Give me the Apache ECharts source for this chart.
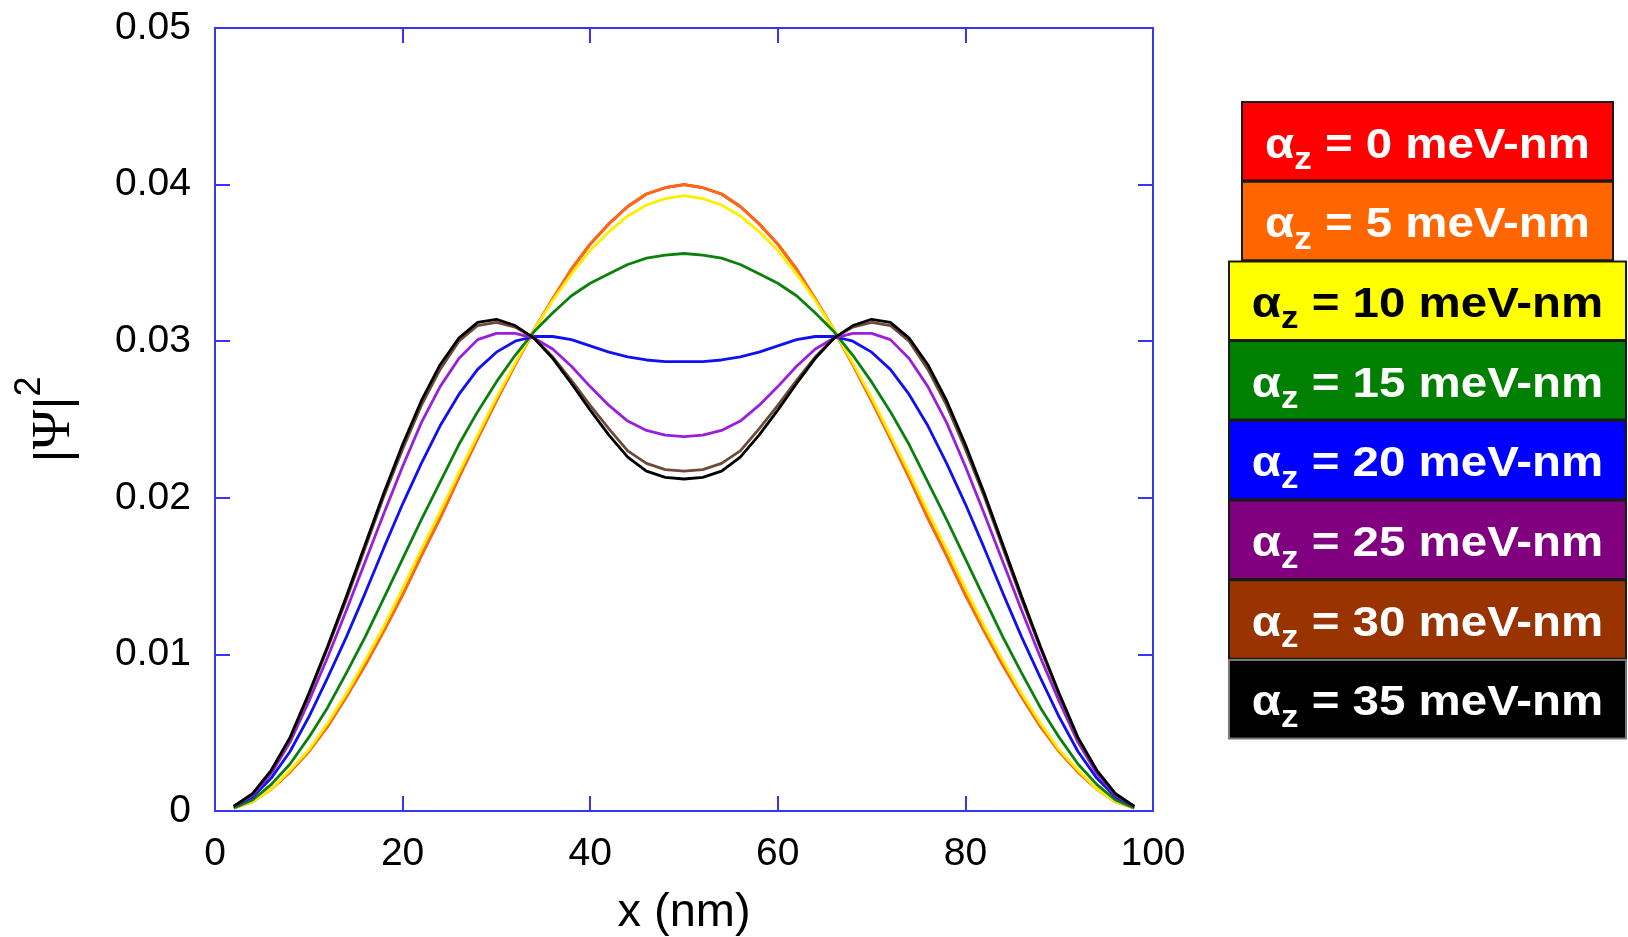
<!DOCTYPE html>
<html>
<head>
<meta charset="utf-8">
<script src="https://cdn.jsdelivr.net/npm/echarts@6/dist/echarts.min.js"></script>
<style>
  html, body { margin: 0; padding: 0; background: #ffffff; }
  #chart { width: 1628px; height: 937px; }
</style>
</head>
<body>
<div id="chart"></div>
<script>
// Grid positions along the wire (nm)
const xNm = [2, 4, 6, 8, 10, 12, 14, 16, 18, 20, 22, 24, 26, 28, 30, 32, 34, 36, 38, 40, 42, 44, 46, 48, 50,
             52, 54, 56, 58, 60, 62, 64, 66, 68, 70, 72, 74, 76, 78, 80, 82, 84, 86, 88, 90, 92, 94, 96, 98];

// Spin-orbit strengths (meV-nm), one curve each
const alphaValues = [0, 5, 10, 15, 20, 25, 30, 35];

// |Psi|^2 along x for each alpha_z
const density0 = [0.0002, 0.0006, 0.0014, 0.0025, 0.0038, 0.0054, 0.0073, 0.0093, 0.0115, 0.0138, 0.0163, 0.0187, 0.0213, 0.0238, 0.0262, 0.0285, 0.0307, 0.0327, 0.0346, 0.0362, 0.0375, 0.0386, 0.0394, 0.0398, 0.0400,
                  0.0398, 0.0394, 0.0386, 0.0375, 0.0362, 0.0346, 0.0327, 0.0307, 0.0285, 0.0262, 0.0238, 0.0213, 0.0187, 0.0163, 0.0138, 0.0115, 0.0093, 0.0073, 0.0054, 0.0038, 0.0025, 0.0014, 0.0006, 0.0002];
const density5 = [0.0002, 0.0006, 0.0014, 0.0025, 0.0038, 0.0054, 0.0073, 0.0093, 0.0115, 0.0138, 0.0163, 0.0187, 0.0213, 0.0238, 0.0262, 0.0285, 0.0307, 0.0327, 0.0346, 0.0362, 0.0375, 0.0386, 0.0394, 0.0398, 0.0400,
                  0.0398, 0.0394, 0.0386, 0.0375, 0.0362, 0.0346, 0.0327, 0.0307, 0.0285, 0.0262, 0.0238, 0.0213, 0.0187, 0.0163, 0.0138, 0.0115, 0.0093, 0.0073, 0.0054, 0.0038, 0.0025, 0.0014, 0.0006, 0.0002];
const density10 = [0.0002, 0.0006, 0.0014, 0.0026, 0.0039, 0.0056, 0.0075, 0.0096, 0.0118, 0.0142, 0.0167, 0.0191, 0.0216, 0.0240, 0.0264, 0.0286, 0.0307, 0.0326, 0.0343, 0.0358, 0.0370, 0.0380, 0.0387, 0.0391, 0.0393,
                   0.0391, 0.0387, 0.0380, 0.0370, 0.0358, 0.0343, 0.0326, 0.0307, 0.0286, 0.0264, 0.0240, 0.0216, 0.0191, 0.0167, 0.0142, 0.0118, 0.0096, 0.0075, 0.0056, 0.0039, 0.0026, 0.0014, 0.0006, 0.0002];
const density15 = [0.0002, 0.0007, 0.0017, 0.0030, 0.0047, 0.0066, 0.0088, 0.0111, 0.0136, 0.0161, 0.0186, 0.0210, 0.0234, 0.0255, 0.0274, 0.0291, 0.0306, 0.0318, 0.0329, 0.0337, 0.0343, 0.0349, 0.0353, 0.0355, 0.0356,
                   0.0355, 0.0353, 0.0349, 0.0343, 0.0337, 0.0329, 0.0318, 0.0306, 0.0291, 0.0274, 0.0255, 0.0234, 0.0210, 0.0186, 0.0161, 0.0136, 0.0111, 0.0088, 0.0066, 0.0047, 0.0030, 0.0017, 0.0007, 0.0002];
const density20 = [0.0003, 0.0009, 0.0021, 0.0038, 0.0060, 0.0085, 0.0111, 0.0139, 0.0168, 0.0196, 0.0222, 0.0246, 0.0266, 0.0282, 0.0293, 0.0300, 0.0303, 0.0303, 0.0301, 0.0297, 0.0293, 0.0290, 0.0288, 0.0287, 0.0287,
                   0.0287, 0.0288, 0.0290, 0.0293, 0.0297, 0.0301, 0.0303, 0.0303, 0.0300, 0.0293, 0.0282, 0.0266, 0.0246, 0.0222, 0.0196, 0.0168, 0.0139, 0.0111, 0.0085, 0.0060, 0.0038, 0.0021, 0.0009, 0.0003];
const density25 = [0.0003, 0.0010, 0.0024, 0.0044, 0.0070, 0.0098, 0.0128, 0.0159, 0.0190, 0.0220, 0.0248, 0.0271, 0.0289, 0.0301, 0.0305, 0.0305, 0.0302, 0.0295, 0.0284, 0.0271, 0.0259, 0.0249, 0.0243, 0.0240, 0.0239,
                   0.0240, 0.0243, 0.0249, 0.0259, 0.0271, 0.0284, 0.0295, 0.0302, 0.0305, 0.0305, 0.0301, 0.0289, 0.0271, 0.0248, 0.0220, 0.0190, 0.0159, 0.0128, 0.0098, 0.0070, 0.0044, 0.0024, 0.0010, 0.0003];
const density30 = [0.0003, 0.0011, 0.0026, 0.0046, 0.0074, 0.0104, 0.0135, 0.0168, 0.0201, 0.0231, 0.0259, 0.0282, 0.0300, 0.0310, 0.0312, 0.0309, 0.0302, 0.0290, 0.0275, 0.0259, 0.0244, 0.0230, 0.0222, 0.0218, 0.0217,
                   0.0218, 0.0222, 0.0230, 0.0244, 0.0259, 0.0275, 0.0290, 0.0302, 0.0309, 0.0312, 0.0310, 0.0300, 0.0282, 0.0259, 0.0231, 0.0201, 0.0168, 0.0135, 0.0104, 0.0074, 0.0046, 0.0026, 0.0011, 0.0003];
const density35 = [0.0003, 0.0011, 0.0026, 0.0047, 0.0075, 0.0105, 0.0137, 0.0170, 0.0203, 0.0234, 0.0262, 0.0285, 0.0302, 0.0312, 0.0314, 0.0310, 0.0302, 0.0289, 0.0273, 0.0256, 0.0240, 0.0226, 0.0217, 0.0213, 0.0212,
                   0.0213, 0.0217, 0.0226, 0.0240, 0.0256, 0.0273, 0.0289, 0.0302, 0.0310, 0.0314, 0.0312, 0.0302, 0.0285, 0.0262, 0.0234, 0.0203, 0.0170, 0.0137, 0.0105, 0.0075, 0.0047, 0.0026, 0.0011, 0.0003];

// Axis tick labels
const xTickLabels = ['0', '20', '40', '60', '80', '100'];
const yTickLabels = ['0', '0.01', '0.02', '0.03', '0.04', '0.05'];

const densities = [density0, density5, density10, density15, density20, density25, density30, density35];

// Styling
const lineColors = ['#ff0000', '#ff6a10', '#ffee00', '#0c800c', '#1010f0', '#9a1fdc', '#6e4a3a', '#000000'];
const boxColors  = ['#ff0000', '#ff6600', '#ffff00', '#008000', '#0000ff', '#800080', '#993300', '#000000'];
const boxText    = ['#ffffff', '#ffffff', '#000000', '#ffffff', '#ffffff', '#ffffff', '#ffffff', '#ffffff'];
const frameBlue = '#3535f2';
const sansFont = '"Liberation Sans", Arial, Helvetica, sans-serif';
const serifFont = '"Liberation Serif", "DejaVu Serif", serif';

const chart = echarts.init(document.getElementById('chart'));

// Plot frame: bottom/left carry the labels, top/right only mirror the ticks
function frameAxis(extra) {
  return Object.assign({
    type: 'value',
    axisLine: { show: true, onZero: false, lineStyle: { color: frameBlue, width: 2 } },
    axisTick: { show: true, inside: true, length: 15, lineStyle: { color: frameBlue, width: 2 } },
    splitLine: { show: false },
    axisLabel: { show: false }
  }, extra);
}

const series = densities.map((arr, k) => ({
  name: 'alpha_z = ' + alphaValues[k],
  type: 'line',
  xAxisIndex: 0,
  yAxisIndex: 0,
  data: xNm.map((x, i) => [x, arr[i]]),
  showSymbol: false,
  smooth: false,
  lineStyle: { color: lineColors[k], width: 2.8 },
  itemStyle: { color: lineColors[k] },
  z: 2 + k
}));

// Legend panel: one coloured box per alpha_z
const legendGraphics = [];
const boxTop = 102;
const boxPitch = 79.7;
const boxHeight = 78.5;
alphaValues.forEach((a, k) => {
  const narrow = a < 10;
  const left = narrow ? 1242 : 1229;
  const right = narrow ? 1613 : 1626;
  const top = boxTop + k * boxPitch;
  legendGraphics.push({
    type: 'rect',
    shape: { x: left, y: top, width: right - left, height: boxHeight },
    style: { fill: boxColors[k], stroke: k === 7 ? '#777777' : '#1a1a1a', lineWidth: 2 },
    z: 10
  });
  legendGraphics.push({
    type: 'text',
    x: (left + right) / 2,
    y: top + 44,
    scaleX: 1.13,
    style: {
      text: '{a|α}{s|z}{a| = ' + a + ' meV-nm}',
      align: 'center',
      verticalAlign: 'middle',
      fill: boxText[k],
      rich: {
        a: { fontSize: 42, fontWeight: 'bold', fontFamily: sansFont, lineHeight: 60, fill: boxText[k] },
        s: { fontSize: 31, fontWeight: 'bold', fontFamily: sansFont, lineHeight: 30, verticalAlign: 'bottom', fill: boxText[k] }
      }
    },
    z: 11
  });
});

chart.setOption({
  animation: false,
  backgroundColor: '#ffffff',
  grid: { left: 215, right: 475, top: 28, bottom: 126, containLabel: false, outerBoundsMode: 'none' },
  xAxis: [
    frameAxis({
      position: 'bottom', min: 0, max: 100, interval: 20,
      axisLabel: {
        show: true, color: '#000000', fontSize: 39, fontFamily: sansFont, margin: 24,
        formatter: v => xTickLabels[Math.round(v / 20)]
      },
      name: 'x (nm)', nameLocation: 'middle', nameGap: 79,
      nameTextStyle: { color: '#000000', fontSize: 47, fontFamily: sansFont }
    }),
    frameAxis({ position: 'top', min: 0, max: 100, interval: 20 })
  ],
  yAxis: [
    frameAxis({
      position: 'left', min: 0, max: 0.05, interval: 0.01,
      axisLabel: {
        show: true, color: '#000000', fontSize: 39, fontFamily: sansFont, margin: 24,
        formatter: v => yTickLabels[Math.round(v / 0.01)]
      },
      name: '{b||}{p|Ψ}{b||}{s|2}', nameLocation: 'middle', nameRotate: 90, nameGap: 117,
      nameTextStyle: {
        color: '#000000', fontSize: 50, fontFamily: sansFont,
        rich: {
          b: { fontSize: 50, fontFamily: sansFont, color: '#000000', lineHeight: 86 },
          p: { fontSize: 54, fontFamily: serifFont, color: '#000000', lineHeight: 86 },
          s: { fontSize: 36, fontFamily: sansFont, verticalAlign: 'top', color: '#000000', lineHeight: 36 }
        }
      }
    }),
    frameAxis({ position: 'right', min: 0, max: 0.05, interval: 0.01 })
  ],
  series: series,
  graphic: legendGraphics
});
</script>
</body>
</html>
